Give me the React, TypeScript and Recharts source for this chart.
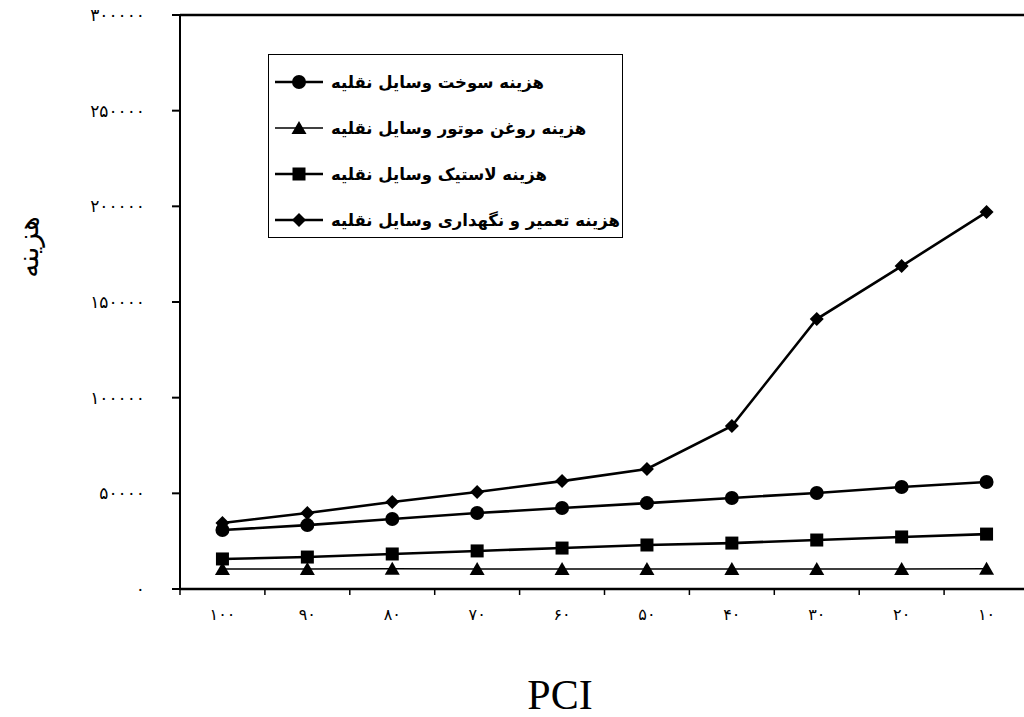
import React from 'react';
import {LineChart, Line, XAxis, YAxis, Legend, ReferenceLine} from 'recharts';

const pci = [100, 90, 80, 70, 60, 50, 40, 30, 20, 10];
const fuelCost = [30800, 33400, 36600, 39700, 42300, 44900, 47600, 50200, 53300, 55900];
const oilCost = [10500, 10500, 10600, 10500, 10500, 10500, 10500, 10500, 10500, 10600];
const tireCost = [15700, 16700, 18300, 19900, 21400, 23000, 24000, 25600, 27200, 28700];
const repairCost = [34500, 39700, 45500, 50700, 56400, 62700, 85200, 141100, 168800, 197000];
const yTicks = [0, 50000, 100000, 150000, 200000, 250000, 300000];

const seriesNames = {
    fuel: 'هزینه سوخت وسایل نقلیه',
    oil: 'هزینه روغن موتور وسایل نقلیه',
    tire: 'هزینه لاستیک وسایل نقلیه',
    repair: 'هزینه تعمیر و نگهداری وسایل نقلیه',
};
const keys = ['fuel', 'oil', 'tire', 'repair'] as const;

const data = pci.map((p, i) => ({
    pci: p,
    fuel: fuelCost[i],
    oil: oilCost[i],
    tire: tireCost[i],
    repair: repairCost[i],
}));

const faDigits = (v: number | string) => String(v).replace(/[0-9]/g, d => '۰۱۲۳۴۵۶۷۸۹'[+d]);

const BAND = (1029 - 180) / pci.length;

const Marker = ({cx, cy, shape}: { cx: number; cy: number; shape: string }) => {
    if (shape === 'circle') return <circle cx={cx} cy={cy} r={7} fill="#000"/>;
    if (shape === 'square') return <rect x={cx - 6.5} y={cy - 6.5} width={13} height={13} fill="#000"/>;
    if (shape === 'triangle') return <polygon points={`${cx},${cy - 7} ${cx + 7.5},${cy + 6} ${cx - 7.5},${cy + 6}`} fill="#000"/>;
    return <polygon points={`${cx},${cy - 7} ${cx + 7},${cy} ${cx},${cy + 7} ${cx - 7},${cy}`} fill="#000"/>;
};

const shapes: Record<string, string> = {fuel: 'circle', oil: 'triangle', tire: 'square', repair: 'diamond'};
const widths: Record<string, number> = {fuel: 2.6, oil: 1.5, tire: 2.6, repair: 2.6};

const XTick = (props: any) => {
    const {x, y, payload} = props;
    return (
        <g>
            <line x1={x - BAND / 2} y1={y} x2={x - BAND / 2} y2={y + 6} stroke="#000" strokeWidth={1.5}/>
            <text x={x} y={y + 31} textAnchor="middle" fontSize={16} letterSpacing={2} fontFamily="DejaVu Sans" fill="#000">
                {faDigits(payload.value)}
            </text>
        </g>
    );
};

const renderLegend = (props: any) => {
    const items = keys.map(k => props.payload.find((e: any) => e.dataKey === k)).filter(Boolean);
    return (
        <div style={{border: '1px solid #000', background: '#fff', boxSizing: 'border-box', width: 355, height: 184, paddingTop: 4, paddingLeft: 6}}>
            {items.map((entry: any) => (
                <div key={entry.dataKey} style={{display: 'flex', alignItems: 'center', height: 46}}>
                    <svg width={48} height={16}>
                        <line x1={0} y1={8} x2={48} y2={8} stroke="#000" strokeWidth={widths[entry.dataKey]}/>
                        <Marker cx={24} cy={8} shape={shapes[entry.dataKey]}/>
                    </svg>
                    <span style={{direction: 'rtl', fontFamily: 'DejaVu Sans', fontWeight: 'bold', fontSize: 16.5, marginLeft: 8, color: '#000'}}>
                        {entry.value}
                    </span>
                </div>
            ))}
        </div>
    );
};

export default function App() {
    return (
        <div style={{position: 'absolute', left: 0, top: 0, width: 1024, height: 717, overflow: 'hidden', background: '#fff'}}>
            <LineChart width={1040} height={717} data={data} margin={{top: 15, right: 11, bottom: 0, left: 0}}>
                <XAxis dataKey="pci" height={128} tickSize={0} tickMargin={0} tickLine={false} interval={0}
                       padding={{left: BAND / 2, right: BAND / 2}}
                       stroke="#000" strokeWidth={2.5} tick={<XTick/>}/>
                <YAxis width={180} domain={[0, 300000]} ticks={yTicks} tickSize={8} tickMargin={27}
                       stroke="#000" strokeWidth={2} tickFormatter={faDigits}
                       tick={{fill: '#000', fontSize: 17, fontFamily: 'DejaVu Sans', letterSpacing: 2}}/>
                <ReferenceLine y={300000} stroke="#000" strokeWidth={2.5}/>
                <Legend layout="vertical" align="center" verticalAlign="middle" content={renderLegend}
                        wrapperStyle={{left: 268, top: 54, width: 355, height: 184}}/>
                {keys.map(k => (
                    <Line key={k} dataKey={k} name={seriesNames[k]} stroke="#000" strokeWidth={widths[k]}
                          isAnimationActive={false}
                          dot={(p: any) => <Marker key={`${k}-${p.index}`} cx={p.cx} cy={p.cy} shape={shapes[k]}/>}
                          activeDot={false}/>
                ))}
            </LineChart>
            <svg width={1024} height={717} style={{position: 'absolute', left: 0, top: 0, pointerEvents: 'none'}}>
                <text x={28} y={247} transform="rotate(-90 28 247)" textAnchor="middle" dominantBaseline="central"
                      fontFamily="DejaVu Sans" fontSize={28} fill="#000">هزینه</text>
                <text x={560} y={709} textAnchor="middle" fontFamily="Liberation Serif" fontSize={42} fill="#000">PCI</text>
            </svg>
        </div>
    );
}
